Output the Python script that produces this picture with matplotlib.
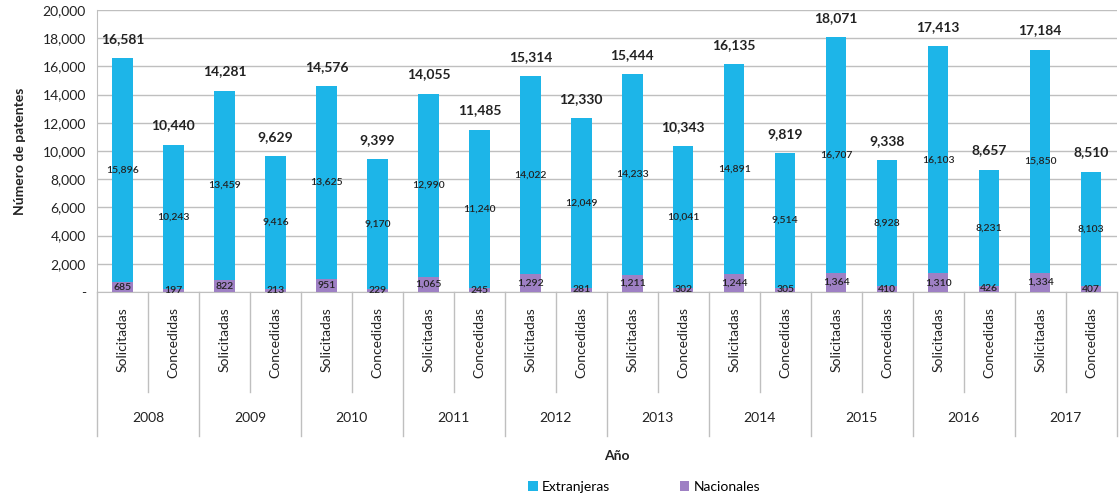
import numpy as np
import matplotlib
matplotlib.use("Agg")
import matplotlib.pyplot as plt
import matplotlib.transforms as mtransforms
from matplotlib.ticker import FuncFormatter

plt.rcParams['font.family'] = ['Lato', 'DejaVu Sans']

years = ['2008', '2009', '2010', '2011', '2012', '2013', '2014', '2015', '2016', '2017']
kinds = ['Solicitadas', 'Concedidas']

# values per bar, order: (year, Solicitadas), (year, Concedidas), ...
extranjeras = [15896, 10243, 13459, 9416, 13625, 9170, 12990, 11240, 14022, 12049,
               14233, 10041, 14891, 9514, 16707, 8928, 16103, 8231, 15850, 8103]
nacionales = [685, 197, 822, 213, 951, 229, 1065, 245, 1292, 281,
              1211, 302, 1244, 305, 1364, 410, 1310, 426, 1334, 407]
totales = [16581, 10440, 14281, 9629, 14576, 9399, 14055, 11485, 15314, 12330,
           15444, 10343, 16135, 9819, 18071, 9338, 17413, 8657, 17184, 8510]

cyan = '#1DB5E8'
purple = '#9E80C4'
grey = '#BFBFBF'

fig = plt.figure(figsize=(11.2, 4.99), dpi=100)
ax = fig.add_axes([0.0866, 0.415, 0.9104, 0.565])

x = np.arange(len(extranjeras))
ext = np.array(extranjeras)
nac = np.array(nacionales)

ax.bar(x, nac, width=0.4, color=purple, label='Nacionales', zorder=3)
ax.bar(x, ext, width=0.4, bottom=nac, color=cyan, label='Extranjeras', zorder=3)

# labels inside and above bars
for i in x:
    ax.text(i, nac[i] + ext[i] / 2, f'{ext[i]:,}', ha='center', va='center',
            fontsize=7.5, fontweight='semibold', color='#222222', zorder=4)
    ax.text(i, nac[i] / 2, f'{nac[i]:,}', ha='center', va='center',
            fontsize=7.5, fontweight='semibold', color='#222222', zorder=4)
    ax.annotate(f'{totales[i]:,}', (i, totales[i]), xytext=(0, 14),
                textcoords='offset points', ha='center', va='center',
                fontsize=10, fontweight='bold', color='#222222')

ax.set_xlim(-0.5, len(x) - 0.5)
ax.set_ylim(0, 20000)
ax.set_yticks(np.arange(0, 20001, 2000))
ax.yaxis.set_major_formatter(FuncFormatter(lambda v, p: '-' if v == 0 else f'{int(v):,}'))
ax.grid(axis='y', color=grey, lw=1, zorder=0)
ax.tick_params(axis='y', length=0, labelsize=10, pad=8, colors='#222222')

ax.set_xticks(x)
ax.set_xticklabels(kinds * len(years), rotation=90, va='top', fontsize=10)
ax.tick_params(axis='x', length=0, pad=11, colors='#222222')

for s in ['top', 'right']:
    ax.spines[s].set_visible(False)
ax.spines['left'].set_color(grey)
ax.spines['bottom'].set_color(grey)

# multi-level x axis: separators and year labels
trans = mtransforms.blended_transform_factory(ax.transData, ax.transAxes)
for k in range(len(years)):
    left = 2 * k - 0.5
    ax.plot([left, left], [0, -0.51], color=grey, lw=1, transform=trans, clip_on=False)
    ax.plot([left + 1, left + 1], [0, -0.355], color=grey, lw=1, transform=trans, clip_on=False)
    ax.text(2 * k + 0.5, -0.447, years[k], transform=trans, ha='center', va='center',
            fontsize=10, color='#222222')
right = 2 * len(years) - 0.5
ax.plot([right, right], [0, -0.51], color=grey, lw=1, transform=trans, clip_on=False)

ax.text(0.51, -0.56, 'Año', transform=ax.transAxes, ha='center', va='top',
        fontsize=10, fontweight='bold', color='#222222')
ax.set_ylabel('Número de patentes', fontsize=10, fontweight='bold', color='#222222', labelpad=12)

handles, labels = ax.get_legend_handles_labels()
fig.legend(handles[::-1], labels[::-1], loc='center', bbox_to_anchor=(0.575, 0.025),
           ncol=2, frameon=False, fontsize=10, handlelength=0.7, handleheight=0.7,
           handletextpad=0.3, columnspacing=5)

fig.savefig('out.png', dpi=100)
